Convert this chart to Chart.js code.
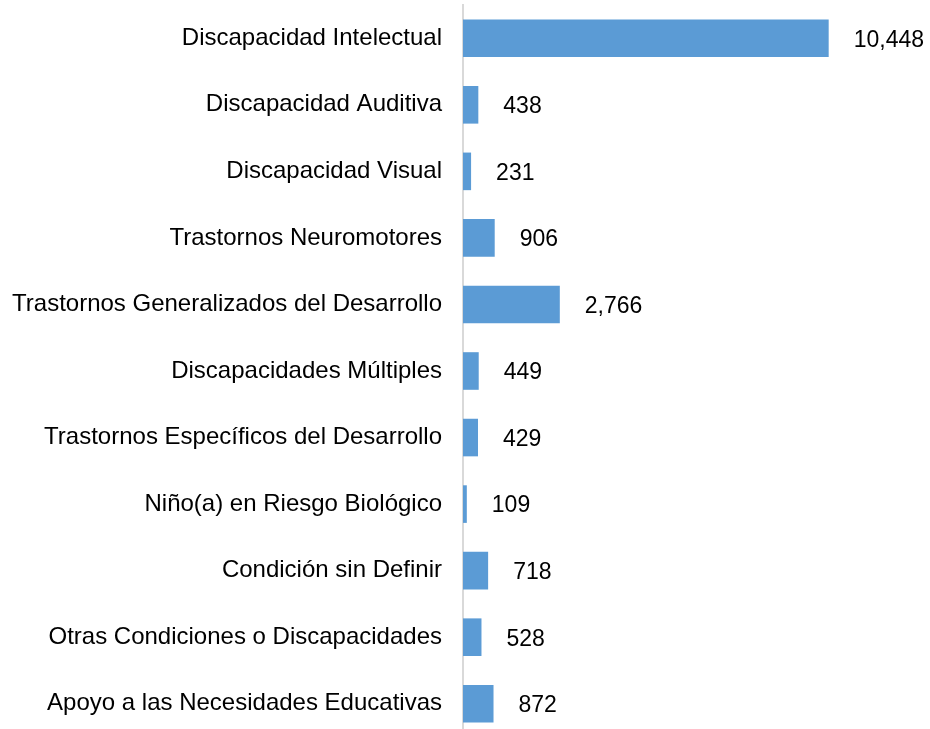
<!DOCTYPE html>
<html>
<head>
<meta charset="utf-8">
<script src="https://cdn.jsdelivr.net/npm/chart.js@4.4.0/dist/chart.umd.min.js"></script>
<style>
  html, body { margin: 0; padding: 0; background: #fff; overflow: hidden; }
  #wrap { position: relative; width: 930px; height: 737px; }
</style>
</head>
<body>
<div id="wrap"><canvas id="c"></canvas></div>
<script>
const categories = [
  "Discapacidad Intelectual",
  "Discapacidad Auditiva",
  "Discapacidad Visual",
  "Trastornos Neuromotores",
  "Trastornos Generalizados del Desarrollo",
  "Discapacidades Múltiples",
  "Trastornos Específicos del Desarrollo",
  "Niño(a) en Riesgo Biológico",
  "Condición sin Definir",
  "Otras Condiciones o Discapacidades",
  "Apoyo a las Necesidades Educativas"
];
const values = [10448, 438, 231, 906, 2766, 449, 429, 109, 718, 528, 872];
const xMin = 0;
const xMax = 12000;

const FONT = "'Liberation Sans', Arial, sans-serif";

const valueLabels = {
  id: 'valueLabels',
  afterDatasetsDraw(chart) {
    const ctx = chart.ctx;
    const meta = chart.getDatasetMeta(0);
    ctx.save();
    ctx.font = "23px " + FONT;
    ctx.fillStyle = '#000';
    ctx.textAlign = 'left';
    ctx.textBaseline = 'middle';
    meta.data.forEach((bar, i) => {
      ctx.fillText(values[i].toLocaleString('en-US'), bar.x + 25, bar.y + 2);
    });
    ctx.restore();
  }
};

new Chart(document.getElementById('c'), {
  type: 'bar',
  data: {
    labels: categories,
    datasets: [{
      data: values,
      backgroundColor: '#5B9BD5',
      borderWidth: 0,
      barPercentage: 0.565,
      categoryPercentage: 1.0
    }]
  },
  options: {
    indexAxis: 'y',
    responsive: true,
    maintainAspectRatio: false,
    animation: false,
    layout: { padding: { top: 5, right: 47, bottom: 0, left: 0 } },
    plugins: {
      legend: { display: false },
      tooltip: { enabled: false },
      title: { display: false }
    },
    scales: {
      x: {
        display: false,
        min: xMin,
        max: xMax
      },
      y: {
        z: 1,
        grid: { display: false, drawTicks: false },
        border: { display: true, color: '#d9d9d9', width: 2 },
        ticks: {
          padding: 21,
          color: '#000',
          font: { family: FONT, size: 24 }
        },
        afterFit(scale) {
          scale.width = 463;
          scale.paddingTop = 0;
          scale.paddingBottom = 0;
        }
      }
    }
  },
  plugins: [valueLabels]
});
</script>
</body>
</html>
